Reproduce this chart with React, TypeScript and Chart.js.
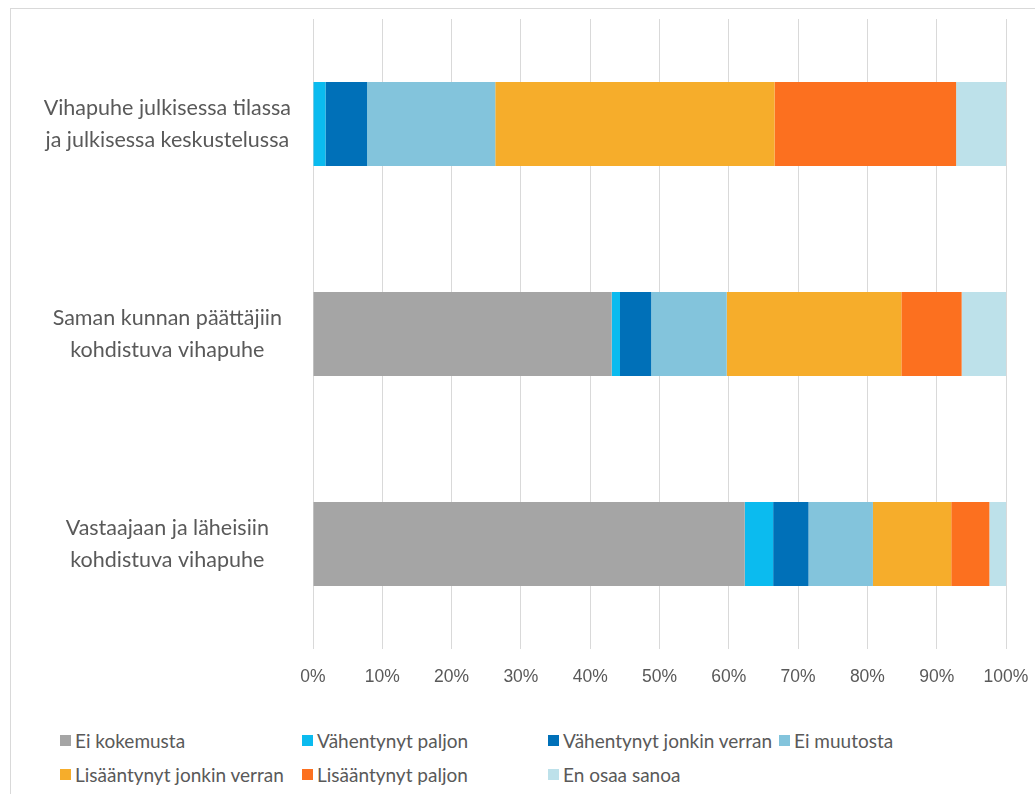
import React, { useEffect, useRef } from "react";
import { Chart, registerables } from "chart.js";

Chart.register(...registerables);

const categories: string[][] = [
  ["Vihapuhe julkisessa tilassa", "ja julkisessa keskustelussa"],
  ["Saman kunnan päättäjiin", "kohdistuva vihapuhe"],
  ["Vastaajaan ja läheisiin", "kohdistuva vihapuhe"],
];

const seriesNames = [
  "Ei kokemusta",
  "Vähentynyt paljon",
  "Vähentynyt jonkin verran",
  "Ei muutosta",
  "Lisääntynyt jonkin verran",
  "Lisääntynyt paljon",
  "En osaa sanoa",
];

const seriesColors = [
  "#A5A5A5",
  "#0BBBEF",
  "#0070B8",
  "#83C4DC",
  "#F6AD2B",
  "#FC701F",
  "#BDE1EA",
];

const eiKokemusta = [0, 43.1, 62.3];
const vahentynytPaljon = [1.8, 1.2, 4.1];
const vahentynytJonkin = [6.0, 4.5, 5.1];
const eiMuutosta = [18.5, 10.9, 9.3];
const lisaantynytJonkin = [40.3, 25.2, 11.3];
const lisaantynytPaljon = [26.2, 8.7, 5.5];
const enOsaa = [7.2, 6.4, 2.4];

const seriesValues = [
  eiKokemusta,
  vahentynytPaljon,
  vahentynytJonkin,
  eiMuutosta,
  lisaantynytJonkin,
  lisaantynytPaljon,
  enOsaa,
];

const xTicks = [0, 10, 20, 30, 40, 50, 60, 70, 80, 90, 100];

const FONT = "Lato, 'Open Sans', sans-serif";
const TICK_FONT = "'Liberation Sans', Arial, sans-serif";
const TEXT = "#595959";

export default function App() {
  const ref = useRef<HTMLCanvasElement | null>(null);

  useEffect(() => {
    if (!ref.current) return;
    const chart = new Chart(ref.current, {
      type: "bar",
      data: {
        labels: categories,
        datasets: seriesNames.map((name, i) => ({
          label: name,
          data: seriesValues[i],
          backgroundColor: seriesColors[i],
          borderWidth: 0,
          barPercentage: 0.4,
          categoryPercentage: 1,
        })),
      },
      options: {
        indexAxis: "y",
        animation: false,
        responsive: false,
        maintainAspectRatio: false,
        layout: { padding: { top: 19, right: 29, left: 0, bottom: 0 } },
        plugins: { legend: { display: false }, tooltip: { enabled: false } },
        scales: {
          x: {
            stacked: true,
            min: 0,
            max: 100,
            afterBuildTicks: (scale: any) => {
              scale.ticks = xTicks.map((v) => ({ value: v }));
            },
            afterFit: (scale: any) => {
              scale.height = 51;
              scale.paddingLeft = 0;
              scale.paddingRight = 0;
            },
            grid: { color: "#D9D9D9", drawTicks: false, lineWidth: 1 },
            border: { display: false },
            ticks: {
              padding: 18,
              color: TEXT,
              font: { family: TICK_FONT, size: 17.5 },
              callback: (v: any) => v + "%",
              maxRotation: 0,
            },
          },
          y: {
            stacked: true,
            afterFit: (scale: any) => {
              scale.width = 313;
              scale.paddingTop = 0;
              scale.paddingBottom = 0;
            },
            grid: { display: false, drawTicks: false },
            border: { display: false },
            ticks: {
              crossAlign: "center",
              padding: 22,
              color: TEXT,
              font: { family: FONT, size: 21.5, lineHeight: 1.45 },
            },
          },
        },
      },
    } as any);
    return () => chart.destroy();
  }, []);

  const legendRows = [
    [0, 1, 2, 3],
    [4, 5, 6],
  ];
  const colX = [60, 302, 548, 779];

  return (
    <div
      style={{
        position: "absolute",
        left: 0,
        top: 0,
        width: 1035,
        height: 794,
        background: "#fff",
        overflow: "hidden",
      }}
    >
      <div
        style={{
          position: "absolute",
          left: 10,
          top: 8,
          width: 1040,
          height: 800,
          borderTop: "1px solid #D9D9D9",
          borderLeft: "1px solid #D9D9D9",
        }}
      />
      <canvas
        ref={ref}
        width={1035}
        height={700}
        style={{ position: "absolute", left: 0, top: 0, width: 1035, height: 700 }}
      />
      {legendRows.map((row, r) =>
        row.map((idx, c) => (
          <div
            key={idx}
            style={{
              position: "absolute",
              left: colX[c],
              top: 728 + r * 34,
              height: 24,
              display: "flex",
              alignItems: "center",
              fontFamily: FONT,
              fontSize: 19,
              color: TEXT,
              whiteSpace: "nowrap",
            }}
          >
            <span
              style={{
                display: "inline-block",
                width: 11,
                height: 11,
                background: seriesColors[idx],
                marginRight: 4,
              }}
            />
            {seriesNames[idx]}
          </div>
        ))
      )}
    </div>
  );
}
